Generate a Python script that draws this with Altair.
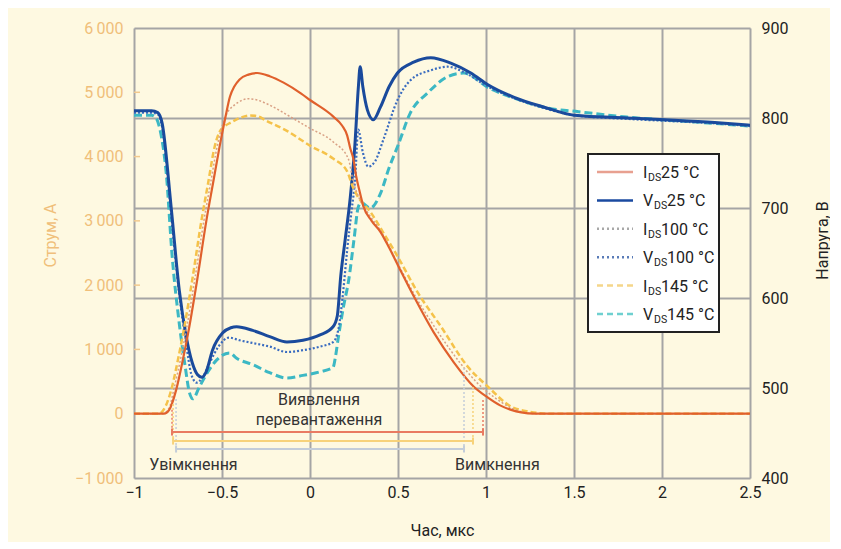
import altair as alt
import pandas as pd

FONT = "Roboto"

# ---------------- data ----------------
# time axis, µs
x_ticks = [-1, -0.5, 0, 0.5, 1, 1.5, 2, 2.5]
i_ticks = [-1000, 0, 1000, 2000, 3000, 4000, 5000, 6000]
v_ticks = [400, 500, 600, 700, 800, 900]
inner_ticks = [1000, 2000, 3000, 4000, 5000]

# I_DS 25 °C
t_i25 = [-1.0, -0.83, -0.80, -0.76, -0.72, -0.686, -0.64, -0.589, -0.55, -0.514,
         -0.48, -0.455, -0.43, -0.40, -0.35, -0.30, -0.229, -0.15, -0.05, 0.0,
         0.131, 0.183, 0.211, 0.229, 0.246, 0.262, 0.28, 0.303, 0.35, 0.40,
         0.45, 0.505, 0.589, 0.703, 0.817, 0.931, 1.011, 1.08, 1.143, 1.2,
         1.274, 1.5, 2.0, 2.5]
i25 = [0, 0, 60, 375, 870, 1350, 2100, 3000, 3600, 4150,
       4620, 4930, 5090, 5200, 5275, 5300, 5250, 5150, 4980, 4880,
       4625, 4480, 4330, 4125, 3970, 3700, 3480, 3230, 3000, 2830,
       2580, 2280, 1830, 1265, 800, 420, 250, 130, 60, 20,
       0, 0, 0, 0]

# I_DS 100 °C
t_i100 = [-1.0, -0.84, -0.80, -0.774, -0.734, -0.70, -0.654, -0.603, -0.564, -0.528,
          -0.494, -0.47, -0.43, -0.39, -0.354, -0.30, -0.229, -0.10, 0.0, 0.131,
          0.217, 0.246, 0.28, 0.33, 0.40, 0.50, 0.60, 0.72, 0.85, 0.95,
          1.05, 1.15, 1.28, 1.5, 2.0, 2.5]
i100 = [0, 0, 90, 375, 870, 1350, 2100, 3000, 3600, 4150,
        4520, 4680, 4800, 4870, 4900, 4880, 4800, 4600, 4440, 4230,
        3970, 3610, 3350, 3120, 2850, 2330, 1820, 1300, 800, 480,
        250, 80, 0, 0, 0, 0]

# I_DS 145 °C
t_i145 = [-1.0, -0.86, -0.82, -0.788, -0.748, -0.714, -0.668, -0.617, -0.578, -0.542,
          -0.515, -0.49, -0.45, -0.40, -0.34, -0.30, -0.25, -0.131, 0.0, 0.131,
          0.211, 0.24, 0.269, 0.343, 0.42, 0.497, 0.611, 0.743, 0.897, 1.011,
          1.143, 1.25, 1.35, 1.5, 2.0, 2.5]
i145 = [0, 0, 120, 375, 870, 1350, 2100, 3000, 3600, 4150,
        4380, 4460, 4530, 4600, 4640, 4630, 4560, 4400, 4170, 3970,
        3770, 3550, 3390, 3140, 2800, 2450, 1890, 1360, 730, 420,
        110, 30, 0, 0, 0, 0]

# V_DS 25 °C
t_v25 = [-1.0, -0.90, -0.865, -0.84, -0.789, -0.743, -0.703, -0.669, -0.64, -0.615,
         -0.59, -0.554, -0.497, -0.45, -0.417, -0.326, -0.229, -0.131, -0.04, 0.057,
         0.131, 0.155, 0.175, 0.20, 0.229, 0.255, 0.275, 0.285, 0.30, 0.326,
         0.36, 0.40, 0.45, 0.497, 0.589, 0.686, 0.8, 0.914, 1.011, 1.16,
         1.331, 1.503, 1.8, 2.017, 2.3, 2.5]
v25 = [808, 808, 806, 794, 701, 609, 557, 528, 515, 512,
       518, 542, 561, 567, 568, 564, 557, 551, 553, 559,
       568, 580, 625, 665, 712, 770, 835, 857, 835, 809,
       798, 812, 835, 850, 862, 867, 861, 850, 837, 823,
       812, 803, 800, 798, 795, 792]

# V_DS 100 °C
t_v100 = [-1.0, -0.90, -0.865, -0.84, -0.79, -0.743, -0.703, -0.674, -0.645, -0.61,
          -0.57, -0.52, -0.46, -0.40, -0.30, -0.229, -0.131, -0.04, 0.057, 0.131,
          0.16, 0.19, 0.211, 0.235, 0.257, 0.274, 0.30, 0.331, 0.37, 0.417,
          0.497, 0.571, 0.686, 0.783, 0.874, 1.0, 1.16, 1.33, 1.5, 1.8,
          2.0, 2.3, 2.5]
v100 = [806, 806, 804, 790, 695, 605, 548, 515, 506, 512,
        528, 546, 556, 553, 549, 546, 540, 542, 546, 551,
        564, 610, 653, 695, 734, 787, 762, 746, 752, 776,
        820, 842, 853, 857, 851, 836, 822, 811, 803, 799,
        797, 794, 791]

# V_DS 145 °C
t_v145 = [-1.0, -0.90, -0.875, -0.85, -0.817, -0.783, -0.743, -0.71, -0.685, -0.665,
          -0.629, -0.58, -0.531, -0.457, -0.417, -0.326, -0.229, -0.131, -0.04, 0.057,
          0.131, 0.145, 0.16, 0.19, 0.22, 0.25, 0.274, 0.29, 0.343, 0.40,
          0.45, 0.497, 0.571, 0.669, 0.783, 0.874, 1.011, 1.16, 1.354, 1.526,
          1.8, 2.0, 2.3, 2.5]
v145 = [803, 803, 800, 785, 739, 646, 572, 525, 495, 488,
        501, 518, 531, 539, 533, 526, 517, 511, 514, 518,
        523, 535, 555, 590, 620, 665, 701, 706, 700, 716,
        745, 768, 806, 828, 846, 850, 834, 822, 811, 807,
        801, 798, 794, 791]

# overload-detection intervals (25 °C, 145 °C, 100 °C)
bar_start = [-0.784, -0.778, -0.761]
bar_end = [0.983, 0.926, 0.875]
bar_level = [-285, -425, -549]
bar_top_left = [60, 150, 230]
bar_top_right = [213, 415, 711]
bar_colors = ["#e97b62", "#f7d27a", "#c3cdd9"]

notes_text = ["Виявлення", "перевантаження", "Увімкнення", "Вимкнення"]
notes_t = [0.051, 0.051, -0.662, 1.065]
notes_i = [213, -98, -801, -801]

legend_main = ["I", "V", "I", "V", "I", "V"]
legend_rest = ["25 °C", "25 °C", "100 °C", "100 °C", "145 °C", "145 °C"]
legend_colors = ["#e8a090", "#1a4aa0", "#a8a8a8", "#5a7cb8", "#f5d68a", "#6fd0d0"]
legend_dash = [None, None, [2, 3], [2, 3], [6, 4], [6, 4]]

# ---------------- scales and axes ----------------
GRID = "#a5a5a5"
ORANGE_TXT = "#f0bf7a"
FS = 16

xscale = alt.Scale(domain=[-1, 2.5], nice=False, zero=False)
iscale = alt.Scale(domain=[-1000, 6000], nice=False, zero=False)
vscale = alt.Scale(domain=[400, 900], nice=False, zero=False)

xaxis = alt.Axis(values=x_ticks, format="~g", title="Час, мкс", grid=True,
                 gridColor=GRID, gridWidth=2, ticks=False, domain=False,
                 labelFlush=False, labelFont=FONT, labelFontSize=FS,
                 labelColor="#222", labelPadding=6, titleFont=FONT,
                 titleFontSize=FS, titleFontWeight="normal", titleColor="#222",
                 titleY=57, titleBaseline="alphabetic")
iaxis = alt.Axis(orient="left", values=i_ticks,
                 labelExpr="replace(format(datum.value, ','), ',', '\u2009')",
                 title="Струм, А", grid=False, ticks=False, domain=False,
                 labelFont=FONT, labelFontSize=FS, labelColor=ORANGE_TXT,
                 labelPadding=11, titleFont=FONT, titleFontSize=FS,
                 titleFontWeight="normal", titleColor=ORANGE_TXT, titleAngle=270,
                 titleX=-79, titleY=207, titleAlign="center",
                 titleBaseline="alphabetic")
vaxis = alt.Axis(orient="right", values=v_ticks, title="Напруга, В", grid=True,
                 gridColor=GRID, gridWidth=2, ticks=False, domain=False,
                 labelFont=FONT, labelFontSize=FS, labelColor="#222",
                 labelPadding=11, titleFont=FONT, titleFontSize=FS,
                 titleFontWeight="normal", titleColor="#222", titleAngle=270,
                 titleX=77, titleY=212, titleAlign="center",
                 titleBaseline="alphabetic")


def X(f):
    return alt.X(f, type="quantitative", scale=xscale, axis=xaxis)


def YI(f):
    return alt.Y(f, type="quantitative", scale=iscale, axis=iaxis)


def YV(f):
    return alt.Y(f, type="quantitative", scale=vscale, axis=vaxis)


def series_line(t, v, ych, color, width, dash=None):
    df = pd.DataFrame({"t": t, "v": v})
    kw = dict(color=color, strokeWidth=width, interpolate="monotone", clip=True)
    if dash:
        kw["strokeDash"] = dash
    return alt.Chart(df).mark_line(**kw).encode(x=X("t"), y=ych("v"))


# ---------------- voltage group ----------------
v_group = alt.layer(
    series_line(t_v145, v145, YV, "#3cb8c4", 3, [8, 4]),
    series_line(t_v100, v100, YV, "#3a6cc0", 2.2, [2, 2]),
    series_line(t_v25, v25, YV, "#1a4a9c", 3),
)

# ---------------- current group ----------------
tick_df = pd.DataFrame({"t0": [-1.0] * len(inner_ticks),
                        "t1": [-0.966] * len(inner_ticks), "v": inner_ticks})
inner = alt.Chart(tick_df).mark_rule(color="#f2c98e", strokeWidth=1.5).encode(
    x=X("t0"), x2="t1", y=YI("v"))

bars_df = pd.DataFrame({"s": bar_start, "e": bar_end, "lvl": bar_level,
                        "c": bar_colors})
bars = alt.Chart(bars_df).mark_rule(strokeWidth=2).encode(
    x=X("s"), x2="e", y=YI("lvl"), color=alt.Color("c:N", scale=None))

vert_df = pd.DataFrame({
    "t": bar_start + bar_end,
    "top": bar_top_left + bar_top_right,
    "lvl": bar_level + bar_level,
    "c": bar_colors + bar_colors,
})
verts = alt.Chart(vert_df).mark_rule(strokeWidth=1.5, strokeDash=[2, 2]).encode(
    x=X("t"), y=YI("top"), y2="lvl", color=alt.Color("c:N", scale=None))

cap_df = pd.DataFrame({
    "t": bar_start + bar_end,
    "lo": [l - 55 for l in bar_level + bar_level],
    "hi": [l + 55 for l in bar_level + bar_level],
    "c": bar_colors + bar_colors,
})
caps = alt.Chart(cap_df).mark_rule(strokeWidth=2).encode(
    x=X("t"), y=YI("lo"), y2="hi", color=alt.Color("c:N", scale=None))

notes_df = pd.DataFrame({"t": notes_t, "v": notes_i, "txt": notes_text})
notes = alt.Chart(notes_df).mark_text(font=FONT, fontSize=FS, color="#333",
                                      align="center", baseline="middle").encode(
    x=X("t"), y=YI("v"), text="txt:N")

# legend (drawn by hand to keep the DS subscripts)
one = pd.DataFrame({"k": [0]})
legend_layers = [
    alt.Chart(one).mark_rect(fill="white", stroke="#222", strokeWidth=2).encode(
        x=alt.value(454), x2=alt.value(585), y=alt.value(126), y2=alt.value(304))
]
for k in range(len(legend_main)):
    yc = 144 + k * 28.4
    rkw = dict(color=legend_colors[k], strokeWidth=2.5)
    if legend_dash[k]:
        rkw["strokeDash"] = legend_dash[k]
    legend_layers.append(alt.Chart(one).mark_rule(**rkw).encode(
        x=alt.value(463), x2=alt.value(499), y=alt.value(yc)))
    is_i = legend_main[k] == "I"
    legend_layers.append(alt.Chart(one).mark_text(
        text=legend_main[k], font=FONT, fontSize=FS, color="#222",
        align="left", baseline="alphabetic").encode(
        x=alt.value(509), y=alt.value(yc + 6)))
    legend_layers.append(alt.Chart(one).mark_text(
        text="DS", font=FONT, fontSize=10.5, color="#222",
        align="left", baseline="alphabetic").encode(
        x=alt.value(514 if is_i else 520), y=alt.value(yc + 9)))
    legend_layers.append(alt.Chart(one).mark_text(
        text=legend_rest[k], font=FONT, fontSize=FS, color="#222",
        align="left", baseline="alphabetic").encode(
        x=alt.value(527 if is_i else 533), y=alt.value(yc + 6)))

i_group = alt.layer(
    inner,
    series_line(t_i145, i145, YI, "#f5c24a", 2.5, [6, 3]),
    series_line(t_i100, i100, YI, "#d9a084", 1.5, [2, 2]),
    series_line(t_i25, i25, YI, "#e0602c", 2.2),
    verts, bars, caps, notes,
    *legend_layers,
)

chart = (
    alt.layer(v_group, i_group)
    .resolve_scale(y="independent")
    .properties(width=616, height=450,
                autosize=alt.AutoSizeParams(type="none"),
                padding={"left": 126, "top": 20, "right": 80, "bottom": 64},
                background="#fef9e1")
    .configure_view(stroke="#222", strokeWidth=2, fill="white")
    .configure(font=FONT)
)

chart.save("out.html", embed_options={"renderer": "svg", "actions": False})
